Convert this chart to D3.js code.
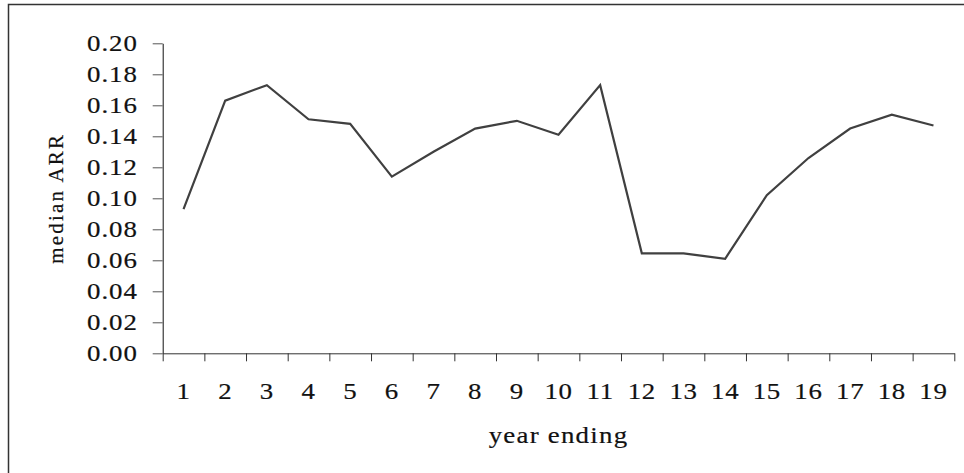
<!DOCTYPE html>
<html>
<head>
<meta charset="utf-8">
<script src="https://cdn.jsdelivr.net/npm/d3@7"></script>
<style>
  body { margin: 0; background: #fff; }
  text { font-family: "Liberation Serif", "Times New Roman", serif; fill: #111; stroke: #111; stroke-width: 0.2; }
</style>
</head>
<body>
<div id="chart"></div>
<script>
// data
let years = d3.range(1, 20).map(String);
let medianARR = [0.093, 0.163, 0.173, 0.151, 0.148, 0.114, 0.130, 0.145, 0.150, 0.141,
                 0.173, 0.0645, 0.0645, 0.061, 0.102, 0.126, 0.145, 0.154, 0.147];
let yTicks = d3.range(0, 0.2001, 0.02);

let svgWidth = 964;
let svgHeight = 473;

// plot area
let margin = { top: 43.3, left: 162.7, bottom: 119.7, right: 9.7 };
let width = svgWidth - margin.left - margin.right;
let height = svgHeight - margin.top - margin.bottom;

// the original text is a bit wider than Times, so stretch it sideways
let stretchX = 1.12;
function widen(sel) {
    sel.each(function () {
        let t = d3.select(this);
        let x = +(t.attr("x") || 0);
        t.attr("x", x / stretchX).attr("transform", `scale(${stretchX}, 1)`);
    });
}

let svg = d3.select("#chart")
    .append("svg")
    .attr("width", svgWidth)
    .attr("height", svgHeight);

// outer frame (only left and top edges are inside the window)
svg.append("rect")
    .attr("x", 8.5)
    .attr("y", 4.5)
    .attr("width", 1000)
    .attr("height", 1000)
    .attr("fill", "none")
    .attr("stroke", "#333")
    .attr("stroke-width", 1.5);

let chartGroup = svg.append("g")
    .attr("transform", `translate(${margin.left}, ${margin.top})`);

// scales
let xBand = d3.scaleBand().domain(years).range([0, width]).padding(0);
let xEdge = d3.scaleLinear().domain([0, years.length]).range([0, width]);
let yScale = d3.scaleLinear().domain([0, 0.2]).range([height, 0]);

// y axis
let yAxis = chartGroup.append("g")
    .call(d3.axisLeft(yScale).tickValues(yTicks).tickFormat(d3.format(".2f"))
        .tickSize(10).tickSizeOuter(0).tickPadding(15));
yAxis.select(".domain").attr("stroke", "#111");
yAxis.selectAll(".tick line").attr("stroke", "#555");
yAxis.selectAll("text")
    .attr("font-size", 24)
    .attr("letter-spacing", 0.8)
    .attr("font-family", "Liberation Serif")
    .attr("fill", "#111")
    .call(widen);

// x axis: ticks between categories, labels in the middle
let xTickAxis = chartGroup.append("g")
    .attr("transform", `translate(0, ${height})`)
    .call(d3.axisBottom(xEdge).tickValues(d3.range(0, years.length + 1))
        .tickFormat("").tickSize(8).tickSizeOuter(0));
xTickAxis.select(".domain").attr("stroke", "#333");
xTickAxis.selectAll(".tick line").attr("stroke", "#333");

let xLabelAxis = chartGroup.append("g")
    .attr("transform", `translate(0, ${height})`)
    .call(d3.axisBottom(xBand).tickSize(0).tickPadding(29));
xLabelAxis.select(".domain").remove();
xLabelAxis.selectAll("text")
    .attr("font-size", 24)
    .attr("letter-spacing", 0.6)
    .attr("font-family", "Liberation Serif")
    .attr("fill", "#111")
    .call(widen);

// line
let line = d3.line()
    .x((d, i) => xBand(years[i]) + xBand.bandwidth() / 2)
    .y(d => yScale(d));

chartGroup.append("path")
    .datum(medianARR)
    .attr("d", line)
    .attr("fill", "none")
    .attr("stroke", "#404040")
    .attr("stroke-width", 2.2)
    .attr("stroke-linejoin", "miter");

// axis titles
chartGroup.append("text")
    .attr("x", width / 2)
    .attr("y", height + 90)
    .attr("text-anchor", "middle")
    .attr("font-size", 24)
    .attr("letter-spacing", 1.1)
    .text("year ending")
    .call(widen);

chartGroup.append("text")
    .attr("transform", `translate(${-margin.left + 63}, ${height / 2}) rotate(-90)`)
    .attr("text-anchor", "middle")
    .attr("font-size", 21)
    .attr("letter-spacing", 2.2)
    .text("median ARR");
</script>
</body>
</html>
